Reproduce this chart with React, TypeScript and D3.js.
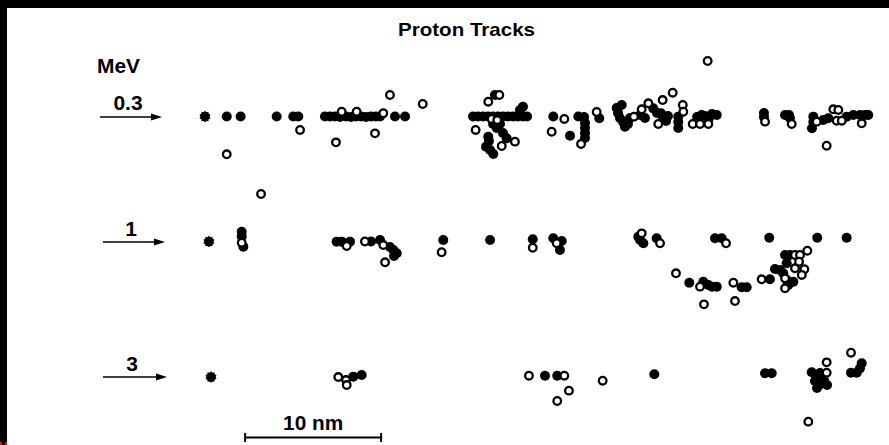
import React from "react";
import * as d3 from "d3";

// Positions along (x) and across (y) each track, in nm.
// kind: "s" primary ionisation (star), "f" ionisation, "o" excitation.
type Ev = [number, number, "s" | "f" | "o"];

const energies = ["0.3", "1", "3"];

const track03: Ev[] = [
  [0, 0, "s"], [1.6, 0, "f"], [2.62, 0, "f"], [1.6, 2.78, "o"], [4.12, 5.7, "o"],
  [5.27, 0, "f"], [6.49, 0, "f"], [6.86, 0, "f"], [6.99, 0.99, "o"],
  [8.82, 0, "f"], [9.19, 0, "f"], [9.56, 0, "f"], [9.93, 0.04, "f"], [10.37, 0, "f"],
  [10.74, 0.04, "f"], [11.1, 0, "f"], [11.47, 0, "f"], [11.84, 0.04, "f"], [12.21, 0, "f"],
  [12.57, 0, "f"], [12.87, 0, "f"],
  [10.05, -0.35, "o"], [11.15, -0.35, "o"], [13.11, -0.24, "o"], [13.6, -1.58, "o"],
  [9.63, 1.9, "o"], [12.5, 1.24, "o"], [13.97, 0, "f"], [14.71, 0, "f"], [16.01, -0.92, "o"],
  [19.71, 0, "f"], [20.07, 0, "f"], [20.44, 0, "f"], [20.81, 0, "f"], [21.18, 0, "f"],
  [21.54, 0, "f"], [21.91, 0, "f"], [22.28, 0, "f"], [22.65, 0, "f"], [23.01, 0, "f"],
  [23.38, 0, "f"], [23.68, 0, "f"], [23.38, -0.72, "f"], [23.16, -0.48, "f"],
  [20.83, -1.09, "o"], [21.32, -1.58, "f"], [21.64, -1.58, "o"], [19.9, 0.99, "o"],
  [21.08, 0.18, "o"], [21.49, 0.26, "o"], [21.45, 0.85, "f"], [21.18, 0.55, "f"],
  [21.69, 0.55, "f"], [20.83, 1.49, "f"], [20.66, 2.22, "f"], [20.88, 1.8, "f"],
  [21.2, 2.76, "f"], [20.96, 2.46, "f"], [21.82, 2.17, "o"], [22.18, 1.6, "f"],
  [21.91, 1.21, "f"], [22.79, 1.85, "o"],
  [25.61, 0, "f"], [26.42, 0.18, "o"], [25.49, 1.12, "o"], [26.84, 1.41, "f"],
  [27.45, 0, "f"], [27.87, 0.04, "f"], [27.94, 0.48, "f"], [27.94, 0.85, "f"],
  [27.94, 1.21, "f"], [27.94, 1.58, "f"], [27.65, 2.02, "o"], [28.8, -0.33, "o"],
  [28.99, 0.13, "f"],
  [30.27, -0.63, "f"], [30.64, -0.85, "f"], [30.37, -0.26, "f"], [30.51, 0.11, "f"],
  [30.74, 0.4, "f"], [30.88, 0.75, "f"], [31.25, 0.11, "f"], [31.1, 0.55, "f"],
  [31.54, 0.01, "o"], [31.99, -0.11, "f"], [32.11, -0.53, "o"], [32.35, 0.11, "f"],
  [32.6, -0.97, "o"], [32.96, -0.6, "f"], [33.24, -0.26, "f"], [33.53, -0.24, "f"],
  [33.68, 0.11, "f"], [33.9, 0.33, "f"], [34.04, -0.04, "f"], [33.65, -1.21, "o"],
  [34.39, -1.75, "o"], [33.33, 0.55, "o"], [35.13, -0.85, "o"], [35.17, -0.35, "o"],
  [34.8, 0.01, "f"], [34.8, 0.4, "f"], [34.8, 0.85, "f"], [35.86, 0.55, "o"],
  [36.4, 0.55, "o"], [37.01, 0.55, "o"], [36.18, 0.04, "f"], [36.52, -0.11, "f"],
  [36.76, -0.04, "f"], [37.06, 0.11, "f"], [37.28, -0.18, "f"], [37.63, -0.11, "f"],
  [36.96, -4.08, "o"],
  [41.1, -0.26, "f"], [41.1, 0.04, "f"], [41.18, 0.38, "o"], [42.65, -0.11, "f"],
  [42.94, -0.11, "f"], [43.01, 0.11, "f"], [43.14, 0.55, "o"], [44.73, 0.01, "f"],
  [44.73, 0.4, "f"], [44.63, 0.87, "f"], [44.98, 0.38, "o"], [45.46, 0.26, "f"],
  [45.83, 0.13, "f"], [46.2, -0.53, "o"], [46.57, -0.48, "o"], [46.45, 0.31, "o"],
  [46.82, 0.31, "o"], [47.18, 0.01, "f"], [47.67, -0.11, "f"], [48.16, -0.11, "f"],
  [48.53, -0.11, "f"], [48.77, -0.11, "f"], [48.29, 0.5, "o"], [45.71, 2.15, "o"],
];

const track1: Ev[] = [
  [0.29, 0, "s"], [2.7, -0.72, "f"], [2.7, -0.37, "f"], [2.7, 0.09, "o"], [2.82, 0.38, "f"],
  [9.68, 0.01, "f"], [10.05, 0.01, "f"], [10.42, 0.33, "o"], [10.66, 0.01, "f"],
  [11.76, 0, "o"], [12.21, 0, "f"], [12.87, -0.11, "f"], [13.11, 0.26, "o"],
  [13.6, 0.4, "f"], [13.85, 0.63, "f"], [14.1, 0.87, "f"], [13.9, 1.07, "f"], [13.24, 1.53, "o"],
  [17.52, -0.11, "f"], [17.4, 0.79, "o"], [20.96, -0.11, "f"],
  [24.1, -0.16, "f"], [24.1, 0.46, "o"], [25.61, -0.24, "f"], [25.86, 0.13, "o"],
  [26.23, -0.04, "f"], [26.1, 0.63, "f"],
  [31.86, -0.35, "f"], [32.11, -0.6, "o"], [32.23, 0.13, "f"], [31.99, -0.11, "f"],
  [33.21, -0.24, "f"], [33.46, 0.13, "o"], [37.5, -0.24, "f"], [37.99, -0.24, "f"],
  [38.31, 0.13, "o"], [41.49, -0.28, "f"], [45.02, -0.28, "f"], [47.18, -0.28, "f"],
  [34.63, 2.34, "o"], [35.61, 3.03, "f"], [36.64, 2.96, "f"], [36.4, 3.32, "o"],
  [37.01, 3.2, "f"], [37.28, 3.32, "f"], [37.63, 3.32, "f"], [36.69, 4.62, "o"],
  [38.85, 3.03, "o"], [39.46, 3.37, "f"], [39.83, 3.37, "f"], [38.97, 4.38, "o"],
  [40.93, 2.78, "o"], [41.54, 2.78, "f"], [41.91, 2.02, "f"], [42.28, 2.1, "f"],
  [42.65, 0.99, "f"], [43.01, 0.99, "f"], [42.77, 1.6, "f"], [42.52, 2.34, "f"],
  [42.77, 2.83, "f"], [43.26, 2.96, "f"], [42.89, 3.2, "f"],
  [43.38, 0.99, "o"], [43.75, 0.99, "o"], [44.29, 0.68, "o"], [43.68, 1.49, "o"],
  [43.38, 1.97, "o"], [44.07, 2.04, "o"], [43.88, 2.46, "o"], [42.65, 3.44, "o"],
  [42.65, 2.71, "o"],
];

const track3: Ev[] = [
  [0.44, 0.04, "s"], [9.8, 0.04, "o"], [10.37, 0.26, "o"], [10.42, 0.63, "o"],
  [10.9, 0.01, "f"], [11.52, -0.11, "f"],
  [23.82, -0.06, "o"], [25.0, -0.06, "f"], [25.9, -0.06, "f"], [26.42, -0.06, "o"],
  [26.76, 1.04, "o"], [25.9, 1.8, "o"], [29.24, 0.31, "o"], [33.04, -0.16, "f"],
  [41.18, -0.24, "f"], [41.67, -0.24, "f"],
  [44.61, -0.31, "f"], [44.93, -0.04, "f"], [45.22, -0.26, "f"], [44.85, 0.33, "f"],
  [45.15, 0.63, "f"], [45.51, 0.26, "f"], [45.74, 0.63, "f"], [45.0, 0.85, "f"],
  [45.37, 0.11, "f"], [45.71, -1.04, "o"], [45.71, -0.28, "o"], [44.36, 3.32, "o"],
  [47.5, -1.75, "o"], [47.5, -0.28, "f"], [47.92, -0.28, "f"], [48.16, -0.6, "f"],
  [48.29, -0.97, "f"],
];

const tracks = [track03, track1, track3];
const scaleBarStartNm = 2.95;
const scaleBarLengthNm = 10;

const W = 889;
const H = 445;
const trackBase = [116.5, 241.5, 376.5];
const labelY = [110, 236, 371];
const arrowSpan: [number, number][] = [[100, 162], [103, 165], [103, 167]];

// along-track and across-track distances share one nm-to-pixel ratio
const x = d3.scaleLinear().domain([0, 50]).range([205, 885]);
const dy = d3.scaleLinear().domain([0, 50]).range([0, 680]);

const starPath = (() => {
  const pts: [number, number][] = d3.range(20).map((i) => [
    (i / 20) * Math.PI * 2,
    i % 2 === 0 ? 5.8 : 4.6,
  ]);
  return d3.lineRadial().curve(d3.curveLinearClosed)(pts) ?? "";
})();

const FONT = "'Liberation Sans', Arial, sans-serif";

function Arrow({ x1, x2, y }: { x1: number; x2: number; y: number }) {
  return (
    <g>
      <line x1={x1} x2={x2 - 8} y1={y} y2={y} stroke="#000" strokeWidth={1.7} />
      <path d={`M${x2},${y} L${x2 - 11},${y - 3.6} L${x2 - 11},${y + 3.6} Z`} fill="#000" />
    </g>
  );
}

export default function App() {
  const barX1 = x(scaleBarStartNm);
  const barX2 = x(scaleBarStartNm + scaleBarLengthNm);
  const barY = 437.5;
  return (
    <svg
      width={W}
      height={H}
      style={{ position: "absolute", left: 0, top: 0, background: "#fff" }}
    >
      <rect x={0} y={0} width={W} height={H} fill="#fff" />
      <rect x={0} y={0} width={W} height={8} fill="#000" />
      <rect x={0} y={0} width={7} height={H} fill="#000" />
      <rect x={0} y={442} width={2} height={3} fill="#e01010" />
      <rect x={5} y={442} width={2} height={3} fill="#e01010" />

      <text x={398} y={36} fontFamily={FONT} fontSize={19} fontWeight="bold" textLength={137}
        lengthAdjust="spacingAndGlyphs" fill="#000">Proton Tracks</text>
      <text x={97} y={73} fontFamily={FONT} fontSize={20} fontWeight="bold"
        textLength={43} lengthAdjust="spacingAndGlyphs" fill="#000">MeV</text>

      {energies.map((e, i) => (
        <g key={e}>
          <text x={(arrowSpan[i][0] + arrowSpan[i][1]) / 2 - 3} y={labelY[i]} textAnchor="middle"
            fontFamily={FONT} fontSize={21} fontWeight="bold" fill="#000">{e}</text>
          <Arrow x1={arrowSpan[i][0]} x2={arrowSpan[i][1]} y={trackBase[i] + 0.5} />
        </g>
      ))}

      {tracks.map((t, i) => (
        <g key={i}>
          {t.filter((d) => d[2] === "s").map((d, j) => (
            <path key={`s${j}`} d={starPath}
              transform={`translate(${x(d[0])},${trackBase[i] + dy(d[1])})`} fill="#000" />
          ))}
          {t.filter((d) => d[2] === "f").map((d, j) => (
            <circle key={`f${j}`} cx={x(d[0])} cy={trackBase[i] + dy(d[1])} r={5} fill="#000" />
          ))}
          {t.filter((d) => d[2] === "o").map((d, j) => (
            <circle key={`o${j}`} cx={x(d[0])} cy={trackBase[i] + dy(d[1])} r={3.8}
              fill="#fff" stroke="#000" strokeWidth={2.3} />
          ))}
        </g>
      ))}

      <g stroke="#000" strokeWidth={2}>
        <line x1={barX1} x2={barX2} y1={barY} y2={barY} />
        <line x1={barX1} x2={barX1} y1={barY - 4.5} y2={barY + 4.5} />
        <line x1={barX2} x2={barX2} y1={barY - 4.5} y2={barY + 4.5} />
      </g>
      <text x={(barX1 + barX2) / 2} y={430} textAnchor="middle" fontFamily={FONT}
        fontSize={20} fontWeight="bold" textLength={60} lengthAdjust="spacingAndGlyphs"
        fill="#000">10 nm</text>
    </svg>
  );
}
